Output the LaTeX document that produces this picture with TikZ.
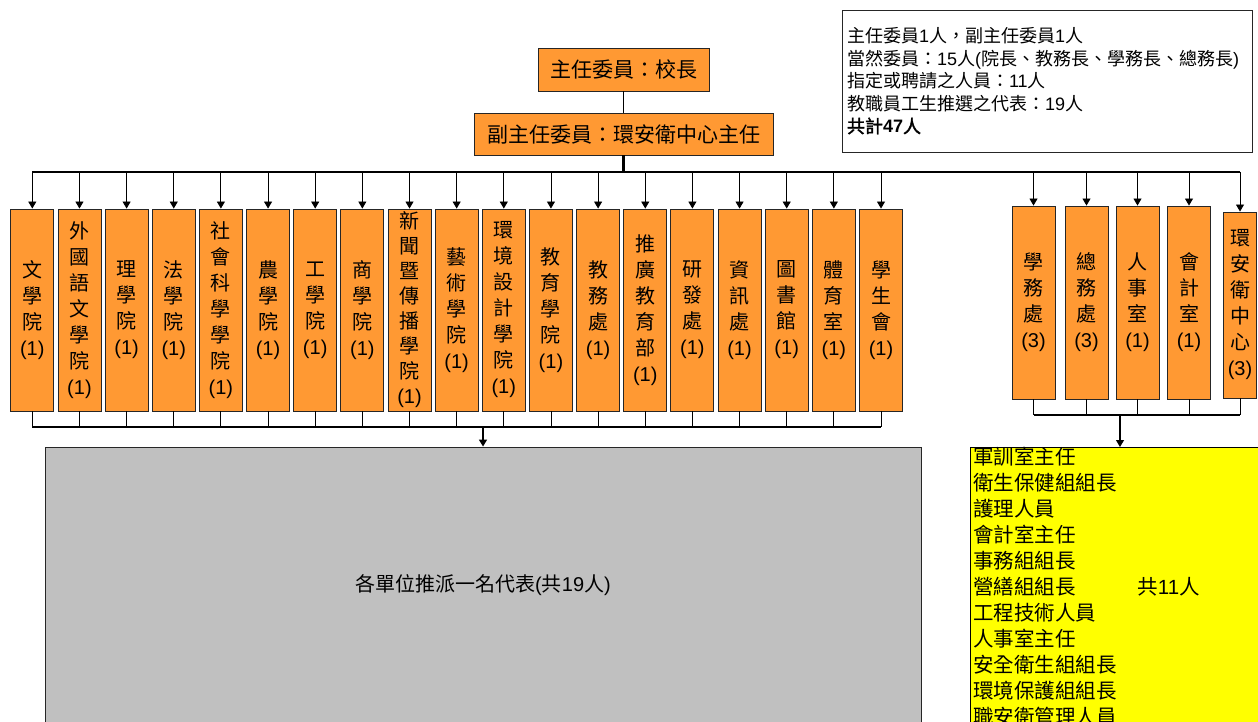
\documentclass[tikz,border=0pt]{standalone}
\usepackage{fontspec}
\setmainfont{Noto Sans CJK TC}
\newfontfamily\latf{Liberation Sans}
\newfontfamily\cjkbold{Noto Sans CJK TC}[FakeBold=2]
\newcommand\numf[1]{{\latf #1}}
\usetikzlibrary{arrows.meta}
\definecolor{orng}{RGB}{255,153,51}
\definecolor{gry}{RGB}{192,192,192}
\definecolor{ylw}{RGB}{255,255,0}
\begin{document}
\begin{tikzpicture}[x=1pt,y=-1pt,
  unit/.style={draw=black!85, line width=0.9pt, fill=orng, inner sep=0pt, align=center},
  headbox/.style={unit, font=\fontsize{21}{26}\selectfont},
  col/.style={unit, minimum width=43pt, minimum height=202pt, font=\fontsize{20}{26}\selectfont},
  tightcol/.style={col, font=\fontsize{20}{25}\selectfont},
  rcol/.style={unit, minimum width=43pt, minimum height=193pt, font=\fontsize{20}{26}\selectfont},
  conn/.style={line width=0.9pt, draw=black},
  arr/.style={conn, -{Triangle[width=8pt,length=7pt]}}
]
\useasboundingbox (0,0) rectangle (1258,722);
\clip (0,0) rectangle (1258,722);

% bus levels
\coordinate (bus) at (0,172);
\coordinate (busb) at (0,427);
\coordinate (busr) at (0,415);

% heads
\node[headbox, minimum width=171pt, minimum height=43pt] (chair) at (623.5,69.5) {主任委員：校長};
\node[headbox, minimum width=299pt, minimum height=42pt] (vice) at (623.5,134) {副主任委員：環安衛中心主任};

% info box
\node[draw=black!85, line width=0.8pt, text width=400pt, align=left, inner xsep=5pt, inner ysep=0pt,
      minimum height=142pt, font=\fontsize{18}{22.5}\selectfont] (info) at (1047,81)
 {主任委員\numf{1}人，副主任委員\numf{1}人\\
  當然委員：\numf{15}人\numf{(}院長、教務長、學務長、總務長\numf{)}\\
  指定或聘請之人員：\numf{11}人\\
  教職員工生推選之代表：\numf{19}人\\
  {\cjkbold 共計{\latf\bfseries 47}人}};

% left columns
\node[col] (u1) at (32.3,310) {文\\學\\院\\\numf{(1)}};
\node[col] (u2) at (79.45,310) {外\\國\\語\\文\\學\\院\\\numf{(1)}};
\node[col] (u3) at (126.6,310) {理\\學\\院\\\numf{(1)}};
\node[col] (u4) at (173.75,310) {法\\學\\院\\\numf{(1)}};
\node[col] (u5) at (220.9,310) {社\\會\\科\\學\\學\\院\\\numf{(1)}};
\node[col] (u6) at (268.05,310) {農\\學\\院\\\numf{(1)}};
\node[col] (u7) at (315.2,310) {工\\學\\院\\\numf{(1)}};
\node[col] (u8) at (362.35,310) {商\\學\\院\\\numf{(1)}};
\node[tightcol] (u9) at (409.5,310) {新\\聞\\暨\\傳\\播\\學\\院\\\numf{(1)}};
\node[col] (u10) at (456.65,310) {藝\\術\\學\\院\\\numf{(1)}};
\node[col] (u11) at (503.8,310) {環\\境\\設\\計\\學\\院\\\numf{(1)}};
\node[col] (u12) at (550.95,310) {教\\育\\學\\院\\\numf{(1)}};
\node[col] (u13) at (598.1,310) {教\\務\\處\\\numf{(1)}};
\node[col] (u14) at (645.25,310) {推\\廣\\教\\育\\部\\\numf{(1)}};
\node[col] (u15) at (692.4,310) {研\\發\\處\\\numf{(1)}};
\node[col] (u16) at (739.55,310) {資\\訊\\處\\\numf{(1)}};
\node[col] (u17) at (786.7,310) {圖\\書\\館\\\numf{(1)}};
\node[col] (u18) at (833.85,310) {體\\育\\室\\\numf{(1)}};
\node[col] (u19) at (881,310) {學\\生\\會\\\numf{(1)}};

% right columns
\node[rcol] (r1) at (1033.5,302.5) {學\\務\\處\\\numf{(3)}};
\node[rcol] (r2) at (1086.5,302.5) {總\\務\\處\\\numf{(3)}};
\node[rcol] (r3) at (1137.5,302.5) {人\\事\\室\\\numf{(1)}};
\node[rcol] (r4) at (1189,302.5) {會\\計\\室\\\numf{(1)}};
\node[unit, minimum width=33pt, minimum height=186pt, font=\fontsize{20}{26}\selectfont] (r5) at (1240,305) {環\\安\\衛\\中\\心\\\numf{(3)}};

% gray box
\node[draw=black!85, line width=0.9pt, fill=gry, minimum width=876pt, minimum height=276pt,
      font=\fontsize{20}{24}\selectfont] (gray) at (483,585) {各單位推派一名代表\numf{(}共\numf{19}人\numf{)}};

% yellow box
\node[draw=black, line width=0.9pt, fill=ylw, anchor=north west, text width=300pt, align=left,
      inner xsep=3pt, inner ysep=0pt, font=\fontsize{20.5}{26}\selectfont] (yl) at (970,447)
 {軍訓室主任\\
  衛生保健組組長\\
  護理人員\\
  會計室主任\\
  事務組組長\\
  \makebox[164pt][l]{營繕組組長}共\numf{11}人\\
  工程技術人員\\
  人事室主任\\
  安全衛生組組長\\
  環境保護組組長\\
  職安衛管理人員};

% connectors: top
\draw[conn] (chair) -- (vice);
\draw[line width=2.5pt] (vice.south) -- (vice.south |- bus);
\draw[line width=1.3pt] (bus -| u1) -- (bus -| r5);
\foreach \i in {1,...,19} \draw[arr] (bus -| u\i) -- (u\i.north);
\foreach \i in {1,...,5} \draw[arr] (bus -| r\i) -- (r\i.north);

% connectors: bottom left
\foreach \i in {1,...,19} \draw[conn] (u\i.south) -- (u\i.south |- busb);
\draw[line width=1.3pt] (busb -| u1) -- (busb -| u19);
\draw[arr, line width=1.3pt] (gray.north |- busb) -- (gray.north);

% connectors: bottom right
\foreach \i in {1,...,5} \draw[conn] (r\i.south) -- (r\i.south |- busr);
\draw[line width=1.3pt] (busr -| r1) -- (busr -| r5);
\draw[arr, line width=1.1pt] ([xshift=150pt]yl.north west |- busr) -- ([xshift=150pt]yl.north west);
\end{tikzpicture}
\end{document}
